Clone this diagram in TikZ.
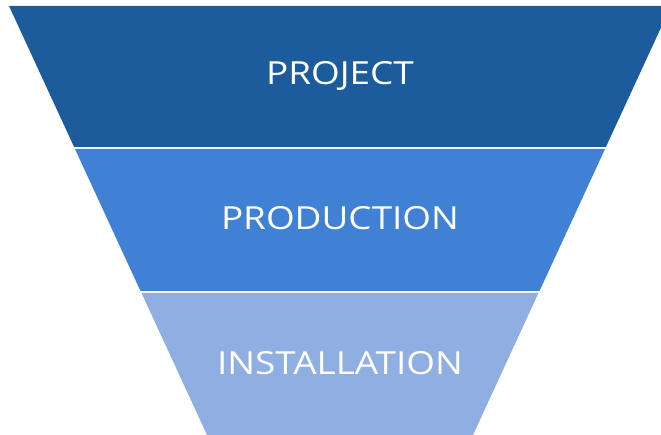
\documentclass[tikz,border=0pt]{standalone}
\usepackage{fontspec}
\setmainfont{Open Sans}
\newfontfamily\widefont[FakeStretch=1.16]{Open Sans}
\definecolor{bandA}{RGB}{29,92,156}
\definecolor{bandB}{RGB}{64,128,213}
\definecolor{bandC}{RGB}{143,174,226}
\begin{document}
\begin{tikzpicture}[x=1pt,y=-1pt,
  label/.style={text=white,font=\widefont\fontsize{31.8}{36}\selectfont,inner sep=0pt,anchor=base}]
\useasboundingbox (0,0) rectangle (661,435);
\fill[bandA] (9,6) -- (671,6) -- (605.9,147) -- (74.1,147) -- cycle;
\fill[bandB] (75.0,149) -- (605.0,149) -- (539.5,291) -- (140.5,291) -- cycle;
\fill[bandC] (141.5,293) -- (538.5,293) -- (473,435) -- (207,435) -- cycle;
\node[label] (project) at (340,84.3) {PROJECT};
\node[label] (production) at (340,230) {PRODUCTION};
\node[label] (installation) at (340,374) {INSTALLATION};
\end{tikzpicture}
\end{document}
